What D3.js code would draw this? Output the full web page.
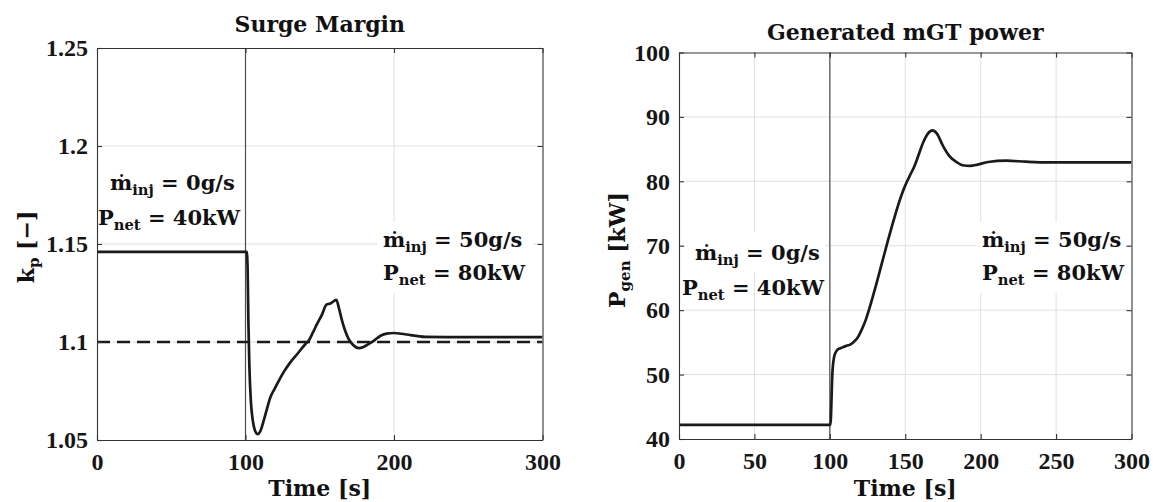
<!DOCTYPE html>
<html>
<head>
<meta charset="utf-8">
<script src="https://cdn.jsdelivr.net/npm/d3@7/dist/d3.min.js"></script>
<style>
  html, body { margin: 0; padding: 0; background: #fff; }
  svg { display: block; }
  .tick text { font-family: 'Liberation Serif', 'Times New Roman', serif; font-weight: bold; font-size: 24px; fill: #161616; }
</style>
</head>
<body>
<svg id="chart" width="1153" height="502"></svg>
<script>
// ---- Surge margin k_p versus time ----
const smTime = [0, 100.8, 101.4, 101.9, 102.6, 103.6, 104.8, 106.3, 108.2, 110, 112.2, 114.5, 116.7,
  119.5, 122.4, 126, 130.2, 135, 140.4, 142.6, 145.5, 148.2, 151.5, 154.5, 157.2, 161.2, 163,
  165, 167, 169.5, 172.5, 176.3, 179.5, 183, 187, 191, 195, 200, 205, 211, 216, 221, 235, 260, 300];
const smValue = [1.146, 1.146, 1.138, 1.112, 1.088, 1.070, 1.0605, 1.055, 1.053, 1.0545, 1.0597, 1.066, 1.0717,
  1.076, 1.0802, 1.085, 1.0896, 1.094, 1.099, 1.1007, 1.105, 1.1092, 1.114, 1.1191, 1.1197, 1.1215, 1.117,
  1.1109, 1.106, 1.1015, 1.0985, 1.0969, 1.0975, 1.099, 1.101, 1.1032, 1.1043, 1.1046, 1.1042, 1.1035, 1.103, 1.1026, 1.1025, 1.1025, 1.1025];
const smLimit = 1.1;

// ---- Generated mGT power versus time ----
const pwTime = [0, 100.5, 100.9, 101.4, 101.9, 102.9, 104, 105.3, 107, 109, 111.5, 113.8, 116, 118.6,
  121, 123.5, 126, 128.5, 131, 133.5, 136, 138.5, 141, 143.5, 146, 148.5, 151, 153.5, 156, 159, 162, 165,
  168, 171, 175, 179, 184, 188, 193, 198, 205, 217, 230, 245, 270, 300];
const pwValue = [42.2, 42.2, 44.5, 48.5, 51, 52.8, 53.5, 53.9, 54.1, 54.3, 54.5, 54.7, 55.1, 55.8,
  56.9, 58.3, 60.1, 62.1, 64.2, 66.4, 68.6, 70.8, 72.9, 74.9, 76.8, 78.5, 79.9, 81.1, 82.3, 84.2, 86.1, 87.4,
  87.9, 87.4, 85.5, 84.0, 83.0, 82.5, 82.4, 82.6, 83.0, 83.2, 83.05, 82.95, 82.95, 82.95];

// ---- Time of the injection step ----
const stepTime = 100;

// ---- Axes ticks ----
const smXTicks = [0, 100, 200, 300];
const smYTicks = [1.05, 1.1, 1.15, 1.2, 1.25];
const smYTickLabels = ["1.05", "1.1", "1.15", "1.2", "1.25"];
const pwXTicks = [0, 50, 100, 150, 200, 250, 300];
const pwYTicks = [40, 50, 60, 70, 80, 90, 100];
const pwYTickLabels = ["40", "50", "60", "70", "80", "90", "100"];

// ---- Texts ----
const titles = ["Surge Margin", "Generated mGT power"];
const xLabel = "Time [s]";
const mdotBefore = ["\u1E41", "inj", " = 0g/s"];
const pnetBefore = ["P", "net", " = 40kW"];
const mdotAfter = ["\u1E41", "inj", " = 50g/s"];
const pnetAfter = ["P", "net", " = 80kW"];

const SERIF = "'DejaVu Serif', serif";
const INK = "#1a1a1a";
const GRID = "#e0e0e0";
const AXIS = "#333333";

const svg = d3.select("#chart");

function subText(g, x, y, parts, fs, anchor) {
  const t = g.append("text")
    .attr("x", x).attr("y", y)
    .attr("font-family", SERIF).attr("font-weight", "bold")
    .attr("font-size", fs).attr("fill", "#111")
    .attr("text-anchor", anchor || "start");
  t.append("tspan").text(parts[0]);
  t.append("tspan").attr("font-size", fs * 0.7).attr("dy", fs * 0.24).text(parts[1]);
  t.append("tspan").attr("dy", -fs * 0.24).text(parts[2]);
  return t;
}

function drawPanel(cfg) {
  const x = d3.scaleLinear().domain([0, 300]).range([cfg.left, cfg.right]);
  const y = d3.scaleLinear().domain(cfg.yDomain).range([cfg.bottom, cfg.top]);
  const g = svg.append("g");

  // grid
  g.append("g").selectAll("line").data(cfg.xTicks.slice(1, -1)).join("line")
    .attr("x1", d => x(d)).attr("x2", d => x(d))
    .attr("y1", cfg.top).attr("y2", cfg.bottom)
    .attr("stroke", GRID).attr("stroke-width", 1);
  g.append("g").selectAll("line").data(cfg.yTicks.slice(1, -1)).join("line")
    .attr("x1", cfg.left).attr("x2", cfg.right)
    .attr("y1", d => y(d)).attr("y2", d => y(d))
    .attr("stroke", GRID).attr("stroke-width", 1);

  // annotation backgrounds
  cfg.boxes.forEach(b => {
    g.append("rect").attr("x", b[0]).attr("y", b[1]).attr("width", b[2]).attr("height", b[3])
      .attr("fill", "#fff");
  });

  // step marker
  g.append("line")
    .attr("x1", x(stepTime)).attr("x2", x(stepTime))
    .attr("y1", cfg.top).attr("y2", cfg.bottom)
    .attr("stroke", "#4d4d4d").attr("stroke-width", 1.2);

  const clipId = "clip" + cfg.id;
  svg.append("clipPath").attr("id", clipId).append("rect")
    .attr("x", cfg.left).attr("y", cfg.top)
    .attr("width", cfg.right - cfg.left).attr("height", cfg.bottom - cfg.top);
  const plot = g.append("g").attr("clip-path", `url(#${clipId})`);

  if (cfg.limit !== undefined) {
    plot.append("line")
      .attr("x1", x(0)).attr("x2", x(300))
      .attr("y1", y(cfg.limit)).attr("y2", y(cfg.limit))
      .attr("stroke", INK).attr("stroke-width", 2.6)
      .attr("stroke-dasharray", "13,7");
  }

  const line = d3.line().x((d, i) => x(cfg.t[i])).y(d => y(d)).curve(d3.curveMonotoneX);
  plot.append("path").datum(cfg.v)
    .attr("d", line).attr("fill", "none")
    .attr("stroke", INK).attr("stroke-width", 2.7)
    .attr("stroke-linejoin", "round");

  // axes (ticks pointing inward, box on all sides)
  const tickLen = 5;
  const ax = g.append("g");
  ax.append("g").attr("transform", `translate(0,${cfg.bottom})`)
    .call(d3.axisBottom(x).tickValues(cfg.xTicks).tickSizeInner(-tickLen).tickSizeOuter(0).tickPadding(13).tickFormat(d3.format("d")));
  ax.append("g").attr("transform", `translate(${cfg.left},0)`)
    .call(d3.axisLeft(y).tickValues(cfg.yTicks).tickSizeInner(-tickLen).tickSizeOuter(0).tickPadding(9)
      .tickFormat((d, i) => cfg.yTickLabels[i]));
  ax.append("g").attr("transform", `translate(0,${cfg.top})`)
    .call(d3.axisTop(x).tickValues(cfg.xTicks).tickSizeInner(-tickLen).tickSizeOuter(0).tickFormat(""));
  ax.append("g").attr("transform", `translate(${cfg.right},0)`)
    .call(d3.axisRight(y).tickValues(cfg.yTicks).tickSizeInner(-tickLen).tickSizeOuter(0).tickFormat(""));
  ax.selectAll("g").attr("font-family", null).attr("font-size", null);
  ax.selectAll(".domain").attr("stroke", AXIS).attr("stroke-width", 1.1);
  ax.selectAll(".tick line").attr("stroke", AXIS).attr("stroke-width", 1.1);

  // annotations
  cfg.notes.forEach(n => subText(g, n.x, n.y, n.parts, 21));

  // title & axis labels
  const cx = (cfg.left + cfg.right) / 2;
  g.append("text").attr("x", cx).attr("y", cfg.titleY)
    .attr("text-anchor", "middle").attr("font-family", SERIF).attr("font-weight", "bold")
    .attr("font-size", 22).attr("fill", "#111").text(cfg.title);
  g.append("text").attr("x", cx).attr("y", 496)
    .attr("text-anchor", "middle").attr("font-family", SERIF).attr("font-weight", "bold")
    .attr("font-size", 22).attr("fill", "#111").text(xLabel);
  const yl = g.append("text")
    .attr("transform", `translate(${cfg.yLabelX},${cfg.yLabelY}) rotate(-90)`)
    .attr("text-anchor", "middle").attr("font-family", SERIF).attr("font-weight", "bold")
    .attr("font-size", 22).attr("fill", "#111");
  yl.append("tspan").text(cfg.yLabel[0]);
  yl.append("tspan").attr("font-size", 15).attr("dy", 5).text(cfg.yLabel[1]);
  yl.append("tspan").attr("dy", -5).text(cfg.yLabel[2]);
}

drawPanel({
  id: "sm", left: 97, right: 542.5, top: 48, bottom: 440,
  yDomain: [1.05, 1.25], xTicks: smXTicks, yTicks: smYTicks, yTickLabels: smYTickLabels,
  t: smTime, v: smValue, limit: smLimit,
  title: titles[0], titleY: 32,
  yLabel: ["k", "p", " [\u2212]"], yLabelX: 34, yLabelY: 247,
  boxes: [[378, 222, 155, 71]],
  notes: [
    { x: 110, y: 190, parts: mdotBefore },
    { x: 98, y: 225, parts: pnetBefore },
    { x: 383, y: 247, parts: mdotAfter },
    { x: 383, y: 280, parts: pnetAfter }
  ]
});

drawPanel({
  id: "pw", left: 679, right: 1131.5, top: 52.5, bottom: 439,
  yDomain: [40, 100], xTicks: pwXTicks, yTicks: pwYTicks, yTickLabels: pwYTickLabels,
  t: pwTime, v: pwValue,
  title: titles[1], titleY: 40,
  yLabel: ["P", "gen", " [kW]"], yLabelX: 625, yLabelY: 250,
  boxes: [[685, 232, 140, 40], [977, 222, 150, 71]],
  notes: [
    { x: 695, y: 260, parts: mdotBefore },
    { x: 682, y: 295, parts: pnetBefore },
    { x: 982, y: 247, parts: mdotAfter },
    { x: 982, y: 280, parts: pnetAfter }
  ]
});
</script>
</body>
</html>
